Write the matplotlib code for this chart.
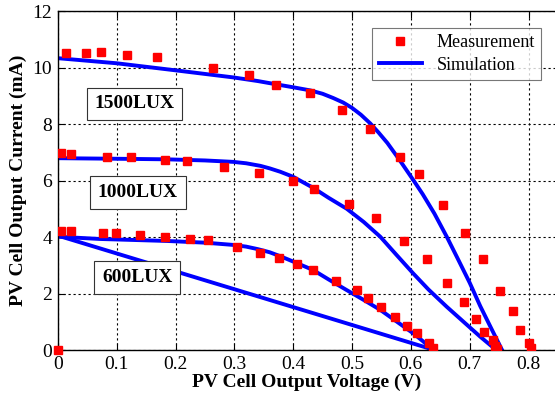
import numpy as np
import matplotlib
matplotlib.use("Agg")
import matplotlib.pyplot as plt

plt.rcParams['font.family'] = ['Liberation Serif', 'DejaVu Serif']

# measured points (V, mA)
meas_1500_v = [0.014, 0.048, 0.074, 0.117, 0.168, 0.264, 0.325, 0.371, 0.429, 0.483, 0.530,
               0.582, 0.614, 0.655, 0.692, 0.722, 0.751, 0.773, 0.786, 0.800, 0.804]
meas_1500_i = [10.50, 10.50, 10.56, 10.44, 10.36, 10.00, 9.72, 9.39, 9.09, 8.50, 7.82,
               6.84, 6.23, 5.13, 4.13, 3.22, 2.10, 1.38, 0.71, 0.24, 0.06]

meas_1000_v = [0.006, 0.023, 0.084, 0.125, 0.182, 0.220, 0.282, 0.342, 0.399, 0.436, 0.495,
               0.540, 0.589, 0.627, 0.661, 0.691, 0.711, 0.725, 0.739, 0.743, 0.747]
meas_1000_i = [6.96, 6.94, 6.84, 6.83, 6.73, 6.68, 6.49, 6.28, 5.98, 5.70, 5.16,
               4.66, 3.86, 3.22, 2.36, 1.69, 1.10, 0.65, 0.35, 0.14, 0.04]

meas_600_v = [0.006, 0.023, 0.076, 0.099, 0.139, 0.182, 0.224, 0.255, 0.304, 0.344, 0.376,
              0.406, 0.433, 0.472, 0.509, 0.527, 0.549, 0.573, 0.593, 0.611, 0.631, 0.638]
meas_600_i = [4.22, 4.22, 4.15, 4.13, 4.08, 4.01, 3.93, 3.89, 3.64, 3.42, 3.24,
              3.04, 2.83, 2.45, 2.12, 1.83, 1.53, 1.18, 0.85, 0.59, 0.26, 0.06]

meas_origin_v = [0.0]
meas_origin_i = [0.0]

# simulated curves
sim_1500_v = [0.0, 0.100, 0.196, 0.298, 0.340, 0.378, 0.400, 0.429, 0.450, 0.468, 0.485,
              0.500, 0.515, 0.531, 0.545, 0.560, 0.580, 0.604, 0.620, 0.640, 0.661, 0.680,
              0.700, 0.718, 0.737, 0.755]
sim_1500_i = [10.33, 10.15, 9.91, 9.65, 9.52, 9.38, 9.30, 9.19, 9.07, 8.92, 8.76,
              8.57, 8.33, 8.02, 7.70, 7.33, 6.75, 6.02, 5.52, 4.83, 4.01, 3.22,
              2.38, 1.55, 0.75, 0.0]

sim_1000_v = [0.0, 0.100, 0.185, 0.250, 0.298, 0.320, 0.344, 0.360, 0.378, 0.400, 0.434,
              0.460, 0.491, 0.520, 0.548, 0.575, 0.604, 0.630, 0.661, 0.690, 0.718, 0.745]
sim_1000_i = [6.79, 6.77, 6.75, 6.71, 6.66, 6.61, 6.52, 6.43, 6.31, 6.13, 5.74,
              5.39, 5.00, 4.53, 4.01, 3.38, 2.71, 2.14, 1.53, 0.99, 0.47, 0.0]

sim_600_v = [0.0, 0.072, 0.185, 0.250, 0.298, 0.320, 0.340, 0.360, 0.378, 0.400, 0.434,
             0.460, 0.491, 0.520, 0.548, 0.575, 0.604, 0.620, 0.638]
sim_600_i = [4.01, 3.93, 3.86, 3.80, 3.72, 3.66, 3.57, 3.46, 3.32, 3.13, 2.83,
             2.50, 2.12, 1.77, 1.42, 1.02, 0.59, 0.32, 0.0]

sim_600_line_v = [0.0, 0.640]
sim_600_line_i = [4.05, 0.0]

labels = ['1500LUX', '1000LUX', '600LUX']
label_pos = [(0.130, 8.71), (0.136, 5.57), (0.135, 2.57)]

fig = plt.figure(figsize=(5.55, 3.99), dpi=100)
ax = fig.add_axes([0.1043, 0.1228, 0.8957, 0.8496])

blue = '#0000ff'
red = '#ff0000'
ax.plot(sim_1500_v, sim_1500_i, color=blue, lw=2.8, label='Simulation', zorder=2,
        solid_joinstyle='round')
ax.plot(sim_1000_v, sim_1000_i, color=blue, lw=2.8, zorder=2, solid_joinstyle='round')
ax.plot(sim_600_v, sim_600_i, color=blue, lw=2.8, zorder=2, solid_joinstyle='round')
ax.plot(sim_600_line_v, sim_600_line_i, color=blue, lw=2.8, zorder=2)

ms = 5.5
ax.plot(meas_1500_v, meas_1500_i, 's', color=red, ms=ms, label='Measurement', zorder=3)
ax.plot(meas_1000_v, meas_1000_i, 's', color=red, ms=ms, zorder=3)
ax.plot(meas_600_v, meas_600_i, 's', color=red, ms=ms, zorder=3)
ax.plot(meas_origin_v, meas_origin_i, 's', color=red, ms=ms, zorder=3, clip_on=False)

for txt, (x, y) in zip(labels, label_pos):
    ax.text(x, y, txt, fontsize=14, fontweight='bold', ha='center', va='center',
            bbox=dict(boxstyle='square,pad=0.4', fc='white', ec='#333333', lw=0.8))

ax.set_xlim(0, 0.845)
ax.set_ylim(0, 12)
ax.set_xticks(np.arange(0, 0.81, 0.1))
ax.set_xticklabels(['0', '0.1', '0.2', '0.3', '0.4', '0.5', '0.6', '0.7', '0.8'])
ax.set_yticks(np.arange(0, 13, 2))
ax.grid(True, color='black', linestyle=(0, (2, 2.5)), lw=0.8)
ax.tick_params(direction='in', top=True, right=False, labelsize=14, length=5, pad=4)
ax.spines['right'].set_visible(False)
for s in ['left', 'bottom', 'top']:
    ax.spines[s].set_linewidth(1.0)

ax.set_xlabel('PV Cell Output Voltage (V)', fontsize=14, fontweight='bold', labelpad=1)
ax.set_ylabel('PV Cell Output Current (mA)', fontsize=14, fontweight='bold', labelpad=4)

handles, lbls = ax.get_legend_handles_labels()
leg = ax.legend(handles[::-1], lbls[::-1], loc='upper right', bbox_to_anchor=(0.972, 0.95),
                fontsize=13, frameon=True, fancybox=False, borderpad=0.35,
                handlelength=2.4, labelspacing=0.3, borderaxespad=0)
leg.get_frame().set_edgecolor('#555555')
leg.get_frame().set_linewidth(0.8)

fig.savefig('out.png', dpi=100)
